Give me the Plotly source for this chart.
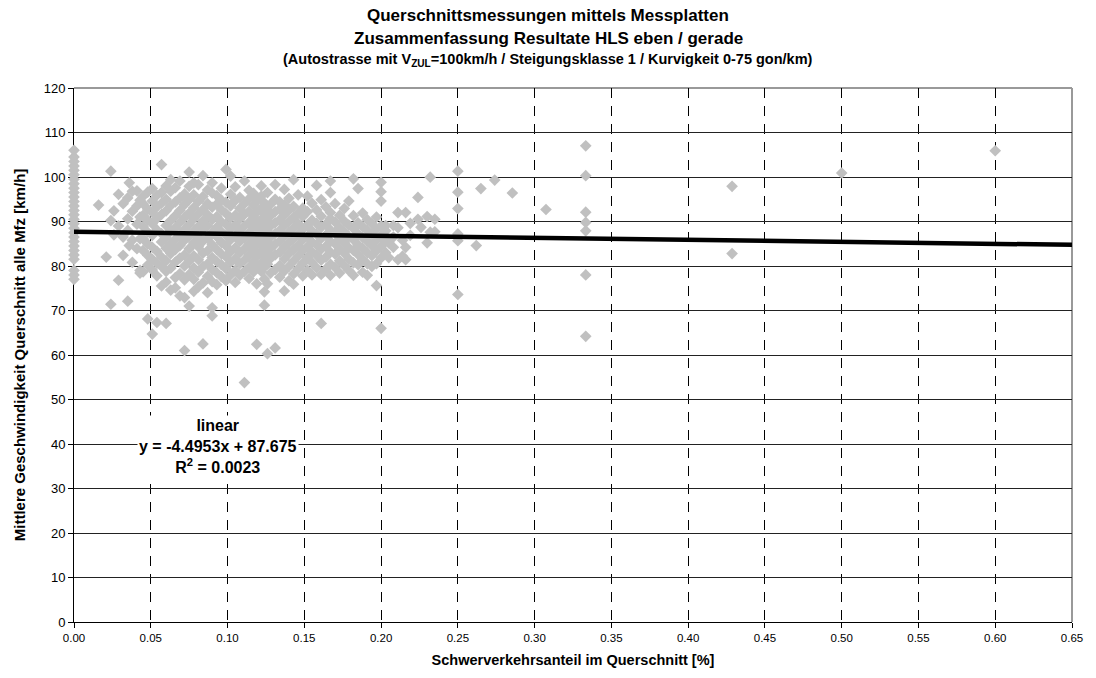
import numpy as np
import plotly.graph_objects as go

# ---- data ----
# points with a heavy-traffic share of 0
zero_y = [106.0, 104.5, 103.5, 102.5, 101.5, 100.5, 99.5, 98.5, 97.5, 96.5, 95.5, 94.5,
          93.5, 92.5, 91.5, 90.5, 89.5, 88.5, 87.5, 86.5, 85.5, 84.5, 83.5, 82.5, 81.5,
          79.0, 78.0, 77.0]

# sparse left part (x column, speeds)
left_x = [0.016, 0.021, 0.024, 0.026, 0.029, 0.032, 0.035, 0.036, 0.038, 0.041, 0.043]
left_y = [[93.7], [82.0], [101.3, 71.4, 90.2], [92.4, 87.0], [96.1, 76.8, 89.0],
          [82.4, 94.0, 86.5], [72.1, 95.3, 90.6, 88.0], [98.7, 84.6],
          [96.8, 92.3, 85.8, 80.8], [83.9, 89.4, 93.5, 96.9], [79.0, 86.1, 91.0, 94.8, 78.4]]

# dense core
core_x = [0.045, 0.048, 0.051, 0.054, 0.057, 0.060, 0.063, 0.066, 0.069, 0.072, 0.075,
          0.078, 0.081, 0.084, 0.087, 0.090, 0.093, 0.096, 0.099, 0.102, 0.105, 0.108,
          0.111, 0.114, 0.117, 0.119, 0.122, 0.124, 0.126, 0.128, 0.131, 0.134, 0.137,
          0.140, 0.143, 0.146, 0.149, 0.152, 0.155, 0.158, 0.161, 0.164, 0.167, 0.170,
          0.173, 0.176, 0.179, 0.182, 0.185, 0.188, 0.191, 0.194, 0.197, 0.200]
core_y = [
    [78.7, 83.5, 86.1, 88.9, 91.4, 94.0, 95.7],
    [80.2, 82.4, 85.0, 87.6, 90.3, 92.8, 96.6, 68.1],
    [64.7, 79.1, 81.5, 84.2, 86.9, 89.5, 92.0, 94.6, 97.4],
    [67.3, 77.8, 80.6, 83.3, 88.1, 90.7, 93.3, 95.9],
    [75.5, 79.9, 82.0, 85.4, 87.3, 91.6, 94.1, 96.5, 102.8],
    [67.1, 76.4, 78.8, 81.2, 84.0, 86.5, 89.1, 92.4, 95.0, 98.0],
    [74.6, 79.5, 82.8, 85.1, 87.9, 90.2, 93.6, 96.8, 99.4],
    [75.1, 77.4, 80.9, 83.7, 86.0, 88.6, 91.3, 94.4, 97.6],
    [73.3, 78.3, 81.8, 84.6, 87.1, 89.8, 92.5, 95.3, 99.1],
    [61.0, 72.9, 76.9, 80.0, 82.5, 85.8, 88.2, 90.9, 93.8, 96.2],
    [71.0, 78.1, 81.1, 83.9, 86.7, 89.3, 91.9, 94.9, 97.9, 101.1],
    [74.3, 77.0, 79.6, 82.3, 85.2, 87.8, 90.6, 93.1, 96.0, 98.7],
    [75.3, 78.6, 81.4, 84.3, 86.4, 88.9, 91.7, 94.5, 98.3],
    [62.5, 76.2, 79.9, 82.9, 85.6, 88.3, 90.1, 92.7, 95.6, 100.3],
    [74.0, 77.7, 80.5, 83.4, 86.2, 89.0, 91.5, 94.0, 97.1],
    [70.6, 68.8, 76.5, 79.2, 81.9, 84.8, 87.5, 90.4, 93.2, 96.4, 98.7],
    [75.8, 78.5, 81.0, 83.7, 86.6, 88.7, 91.1, 93.9, 95.8],
    [77.6, 80.3, 82.7, 85.3, 87.7, 89.9, 92.6, 94.8, 97.5],
    [76.7, 79.4, 82.1, 84.5, 86.9, 89.4, 91.8, 94.3, 101.7],
    [78.0, 80.8, 83.2, 85.9, 88.4, 90.8, 93.5, 96.1, 100.2],
    [76.3, 79.0, 81.6, 84.1, 86.8, 89.2, 91.4, 94.7, 97.8],
    [77.9, 80.5, 83.0, 85.5, 88.0, 90.6, 92.9, 95.4],
    [53.8, 78.8, 81.3, 83.8, 86.3, 89.0, 91.6, 94.0, 99.1],
    [77.2, 79.7, 82.4, 84.9, 87.4, 89.8, 92.3, 95.1, 97.0],
    [78.7, 81.0, 83.6, 86.0, 88.6, 91.0, 93.7, 96.3],
    [62.4, 76.0, 79.5, 82.2, 84.7, 87.1, 89.6, 92.1, 94.6],
    [78.8, 80.7, 83.3, 85.7, 88.2, 90.5, 93.0, 95.7, 98.0],
    [71.2, 74.2, 77.1, 79.8, 82.0, 84.4, 86.9, 89.3, 91.8, 94.2],
    [60.3, 76.0, 80.4, 83.0, 85.4, 87.8, 90.2, 92.7, 96.5],
    [78.4, 81.7, 84.0, 86.5, 89.0, 91.3, 93.9],
    [61.6, 79.2, 82.5, 84.9, 87.3, 89.7, 92.2, 95.0, 98.3],
    [77.5, 80.1, 83.1, 85.6, 88.0, 90.4, 92.8, 94.4],
    [74.4, 78.9, 81.6, 84.2, 86.7, 89.1, 91.5, 93.8, 97.2],
    [76.7, 79.9, 82.8, 85.2, 87.6, 90.0, 92.5, 95.2],
    [75.9, 78.2, 81.1, 83.7, 86.1, 88.5, 90.9, 93.4, 99.4],
    [79.4, 82.2, 84.6, 87.0, 89.5, 91.9, 96.0],
    [77.8, 80.6, 83.4, 85.9, 88.3, 91.1, 93.0],
    [79.1, 81.9, 84.3, 86.6, 89.2, 92.2, 95.7],
    [78.0, 80.8, 83.2, 85.4, 87.9, 90.3, 94.1],
    [79.6, 82.4, 84.8, 87.2, 89.6, 92.6, 98.1],
    [67.1, 78.1, 81.3, 83.8, 86.2, 88.7, 91.2, 94.9],
    [79.3, 82.0, 84.4, 86.9, 89.4, 93.3],
    [77.9, 80.4, 83.1, 85.5, 88.1, 90.6, 92.0, 96.5, 99.1],
    [79.7, 82.7, 85.0, 87.5, 89.9, 94.0],
    [78.4, 81.2, 83.9, 86.3, 88.6, 91.4],
    [80.1, 82.9, 85.3, 87.7, 90.1, 92.9],
    [79.0, 81.6, 84.1, 86.6, 89.2, 94.6],
    [77.9, 80.7, 83.5, 85.9, 88.4, 91.3, 99.6],
    [80.3, 82.6, 84.8, 87.2, 89.7, 97.4],
    [78.6, 81.5, 84.0, 86.4, 88.8, 91.9],
    [77.9, 80.5, 83.0, 85.6, 88.0, 90.4],
    [79.9, 82.3, 84.6, 87.1, 89.5],
    [75.6, 80.5, 83.4, 85.8, 88.3, 91.0],
    [66.0, 81.8, 84.3, 86.8, 89.0, 94.6, 96.7, 98.8],
]

# sparse right part
right_x = [0.203, 0.205, 0.208, 0.211, 0.214, 0.216, 0.219, 0.224, 0.226, 0.230, 0.232,
           0.235, 0.250, 0.262, 0.265, 0.274, 0.2855, 0.3074, 0.3333, 0.4286, 0.5, 0.6]
right_y = [[83.0, 85.5, 87.9, 89.1], [81.9, 85.2], [84.2, 86.5, 89.1], [81.4, 88.6, 92.0],
           [82.2, 85.8], [81.4, 84.2, 92.0], [86.9, 89.6], [95.4, 90.5], [88.7],
           [85.2, 91.1], [99.95, 87.6], [87.7, 90.5],
           [101.3, 96.6, 92.9, 87.2, 85.7, 73.6], [84.6], [97.4], [99.3], [96.4], [92.7],
           [107.0, 100.3, 92.1, 89.8, 87.9, 78.0, 64.2], [97.9, 82.8], [100.9], [105.9]]

slope = -4.4953
intercept = 87.675
r2 = 0.0023
x_ticks = [round(0.05 * i, 2) for i in range(14)]

# ---- assemble ----
xs, ys = [0.0] * len(zero_y), list(zero_y)
for cx, cy in list(zip(left_x, left_y)) + list(zip(core_x, core_y)) + list(zip(right_x, right_y)):
    xs += [cx] * len(cy)
    ys += cy

FONT = "Liberation Sans, Arial, sans-serif"

fig = go.Figure()
fig.add_trace(go.Scatter(
    x=xs, y=ys, mode="markers", cliponaxis=False,
    marker=dict(symbol="diamond", size=9, color="#C0C0C0", line=dict(width=0)),
    showlegend=False, hoverinfo="x+y"))

lx = np.array([0.0, 0.65])
fig.add_trace(go.Scatter(x=lx, y=slope * lx + intercept, mode="lines",
                         line=dict(color="black", width=4.5), showlegend=False))

fig.update_layout(
    width=1096, height=678,
    margin=dict(l=74, r=24, t=88, b=51),
    paper_bgcolor="white", plot_bgcolor="white",
    font=dict(family=FONT, color="black", size=11),
    xaxis=dict(range=[0, 0.65], tickvals=x_ticks, tickformat=".2f",
               showgrid=True, gridcolor="black", gridwidth=1, griddash="10px,8px",
               showline=True, linecolor="black", linewidth=1, layer="below traces",
               ticks="outside", ticklen=5, tickcolor="black",
               zeroline=False, tickfont=dict(size=11.5),
               title=dict(text="<b>Schwerverkehrsanteil im Querschnitt [%]</b>",
                          font=dict(size=14.5), standoff=12)),
    yaxis=dict(range=[0, 120], dtick=10, showgrid=True, gridcolor="#222222", gridwidth=1,
               showline=True, linecolor="black", linewidth=1, layer="below traces",
               ticks="outside", ticklen=5, tickcolor="black",
               zeroline=False, tickfont=dict(size=13),
               title=dict(text="<b>Mittlere Geschwindigkeit Querschnitt alle Mfz [km/h]</b>",
                          font=dict(size=15), standoff=14)),
)

# top and right border
fig.add_shape(type="line", xref="paper", yref="paper", x0=0, x1=1, y0=1, y1=1,
              line=dict(color="#999999", width=2), layer="below")
fig.add_shape(type="line", xref="paper", yref="paper", x0=1, x1=1, y0=0, y1=1,
              line=dict(color="#999999", width=2), layer="below")

# titles
tx = (548 - 74) / 998
fig.add_annotation(xref="paper", yref="paper", x=tx, y=(627 - 15) / 539, showarrow=False,
                   text="<b>Querschnittsmessungen mittels Messplatten</b>",
                   font=dict(size=17), xanchor="center", yanchor="middle")
fig.add_annotation(xref="paper", yref="paper", x=tx, y=(627 - 38) / 539, showarrow=False,
                   text="<b>Zusammenfassung Resultate HLS eben / gerade</b>",
                   font=dict(size=17), xanchor="center", yanchor="middle")
fig.add_annotation(xref="paper", yref="paper", x=tx, y=(627 - 60) / 539, showarrow=False,
                   text="<b>(Autostrasse mit V<sub>ZUL</sub>=100km/h / Steigungsklasse 1 / Kurvigkeit 0-75 gon/km)</b>",
                   font=dict(size=14.5), xanchor="center", yanchor="middle")

# regression label
fig.add_annotation(x=0.0935, y=39.4, showarrow=False,
                   text=f"<b>linear<br>y = {slope}x + {intercept}<br>R<sup>2</sup> = {r2}</b>",
                   font=dict(size=16), bgcolor="white", align="center",
                   xanchor="center", yanchor="middle")

fig.write_html("out.html")
